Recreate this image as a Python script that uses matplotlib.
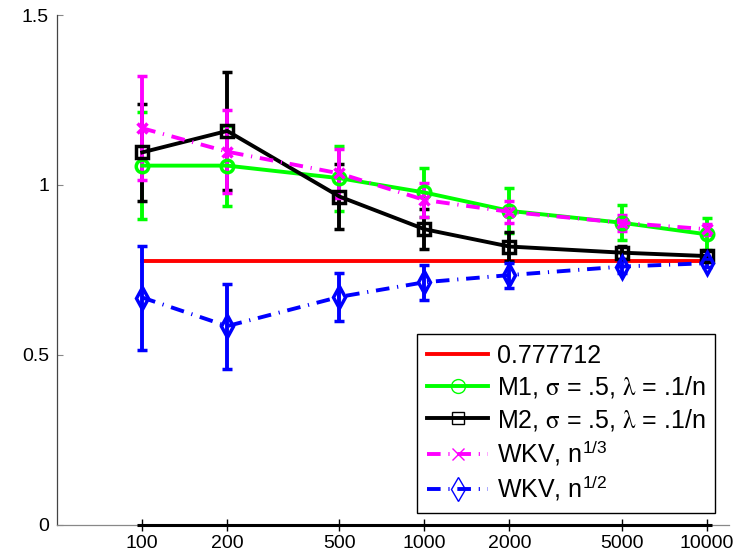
import matplotlib
matplotlib.use("Agg")
import matplotlib.pyplot as plt
from matplotlib.lines import Line2D

plt.rcParams['font.family'] = ['Liberation Sans', 'DejaVu Sans']
plt.rcParams['mathtext.fontset'] = 'stix'

# sample sizes
ns = [100, 200, 500, 1000, 2000, 5000, 10000]
true_value = 0.777712

# M1, sigma = .5, lambda = .1/n
m1_mean = [1.057, 1.057, 1.020, 0.978, 0.924, 0.889, 0.855]
m1_err = [0.158, 0.118, 0.096, 0.073, 0.066, 0.052, 0.047]
# M2, sigma = .5, lambda = .1/n
m2_mean = [1.096, 1.159, 0.966, 0.870, 0.819, 0.801, 0.791]
m2_err = [0.142, 0.174, 0.096, 0.058, 0.044, 0.020, 0.015]
# WKV, n^(1/3)
wkv3_mean = [1.167, 1.098, 1.034, 0.956, 0.921, 0.889, 0.870]
wkv3_err = [0.153, 0.122, 0.072, 0.051, 0.033, 0.024, 0.016]
# WKV, n^(1/2)
wkv2_mean = [0.669, 0.585, 0.671, 0.714, 0.735, 0.760, 0.770]
wkv2_err = [0.153, 0.125, 0.070, 0.051, 0.037, 0.020, 0.012]

labels = ['0.777712',
          r'M1, $\mathrm{\sigma}$ = .5, $\mathrm{\lambda}$ = .1/n',
          r'M2, $\mathrm{\sigma}$ = .5, $\mathrm{\lambda}$ = .1/n',
          r'WKV, n$^{\mathregular{1/3}}$',
          r'WKV, n$^{\mathregular{1/2}}$']

fig = plt.figure(figsize=(7.53, 5.56), dpi=100)
ax = fig.add_axes([0.0761, 0.0558, 0.892, 0.9172])

lw = 2.8
dashdot = (0, (3.5, 2, 0.3, 2))
common = dict(lw=lw, elinewidth=lw, capsize=3.6, capthick=lw)

ax.plot([ns[0], ns[-1]], [true_value, true_value], color='#ff0000', lw=lw)
ax.errorbar(ns, m1_mean, yerr=m1_err, color='#00ff00', marker='o', ms=9,
            mfc='none', mew=2.5, **common)
ax.errorbar(ns, m2_mean, yerr=m2_err, color='k', marker='s', ms=8,
            mfc='none', mew=2.5, **common)
ax.errorbar(ns, wkv3_mean, yerr=wkv3_err, color='#ff00ff', marker='x', ms=7,
            mew=2.5, ls=dashdot, **common)
ax.errorbar(ns, wkv2_mean, yerr=wkv2_err, color='#0000ff', marker='d', ms=11,
            mfc='none', mew=2.5, ls=dashdot, **common)

ax.set_xscale('log')
ax.set_xlim(50, 12000)
ax.set_ylim(0, 1.5)
ax.minorticks_off()
ax.set_xticks(ns)
ax.set_xticklabels([str(n) for n in ns])
ax.set_yticks([0, 0.5, 1, 1.5])
ax.set_yticklabels(['0', '0.5', '1', '1.5'])

for s in ['top', 'right']:
    ax.spines[s].set_visible(False)
ax.spines['left'].set_color('#444444')
ax.spines['left'].set_linewidth(0.9)
ax.spines['bottom'].set_color('#888888')
ax.spines['bottom'].set_linewidth(0.9)

# darker baseline under the sampled range
ax.plot([ns[0] * 0.958, ns[-1] * 1.044], [0, 0], color='k', lw=2.2,
        clip_on=False, zorder=5, solid_capstyle='butt')

ax.tick_params(axis='y', direction='in', length=4, color='#888888', pad=6,
               labelsize=14)
ax.tick_params(axis='x', direction='inout', length=9, color='k', width=1,
               pad=3, labelsize=14)

handles = [
    Line2D([], [], color='#ff0000', lw=lw),
    Line2D([], [], color='#00ff00', lw=lw, marker='o', ms=10, mfc='none', mew=1),
    Line2D([], [], color='k', lw=lw, marker='s', ms=9, mfc='none', mew=1),
    Line2D([], [], color='#ff00ff', lw=lw, ls=dashdot, marker='x', ms=9, mew=1),
    Line2D([], [], color='#0000ff', lw=lw, ls=dashdot, marker='d', ms=12, mfc='none', mew=1),
]
leg = ax.legend(handles, labels, loc='lower right', bbox_to_anchor=(0.9796, 0.0229),
                borderaxespad=0, fontsize=18, handlelength=2.45, handletextpad=0.34,
                labelspacing=0.25, borderpad=0.4, fancybox=False, framealpha=1,
                numpoints=1)
leg.get_frame().set_edgecolor('k')
leg.get_frame().set_linewidth(1)

fig.savefig('out.png', dpi=100)
